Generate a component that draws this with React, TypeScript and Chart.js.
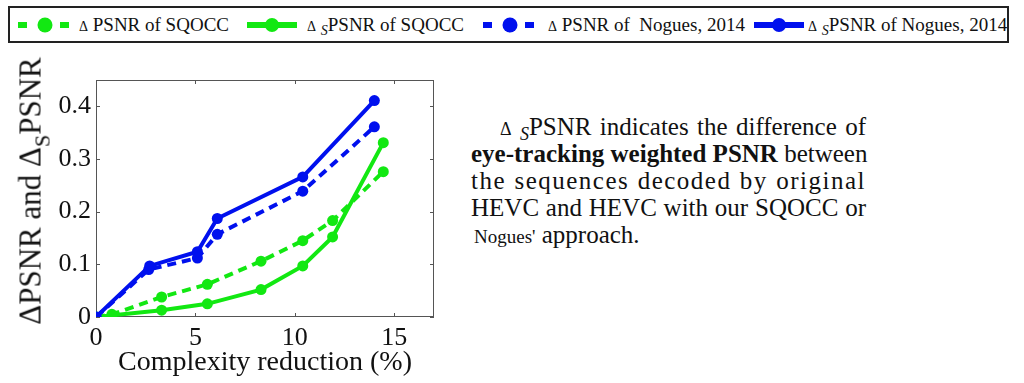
import React, { useEffect, useRef } from "react";
import { Chart, registerables } from "chart.js";

Chart.register(...registerables);

// ---- data ----
const xTicks = [0, 5, 10, 15];
const yTicks = [0, 0.1, 0.2, 0.3, 0.4];

const sqoccDeltaX = [0, 0.8, 3.3, 5.6, 8.3, 10.4, 11.9, 14.45];
const sqoccDeltaY = [0, 0.005, 0.038, 0.062, 0.106, 0.145, 0.183, 0.276];

const sqoccDeltaSX = [0, 3.3, 5.6, 8.3, 10.4, 11.9, 14.45];
const sqoccDeltaSY = [0, 0.013, 0.025, 0.052, 0.097, 0.152, 0.331];

const noguesDeltaX = [0, 2.65, 5.1, 6.1, 10.4, 14.0];
const noguesDeltaY = [0, 0.09, 0.112, 0.157, 0.239, 0.361];

const noguesDeltaSX = [0, 2.7, 5.1, 6.1, 10.4, 14.0];
const noguesDeltaSY = [0, 0.097, 0.124, 0.187, 0.266, 0.411];

const GREEN = "#12e812";
const BLUE = "#0010ee";
const FONT = "'Liberation Serif', 'Times New Roman', serif";

const pts = (xs: number[], ys: number[]) => xs.map((x, i) => ({ x, y: ys[i] }));

const framePlugin = {
  id: "matlabFrame",
  beforeDatasetsDraw(chart: any) {
    const { ctx, chartArea: a, scales } = chart;
    ctx.save();
    ctx.strokeStyle = "#555";
    ctx.lineWidth = 1;
    ctx.strokeRect(a.left + 0.5, a.top + 0.5, a.right - a.left - 1, a.bottom - a.top - 1);
    const tl = 4;
    ctx.beginPath();
    xTicks.forEach((v) => {
      const px = Math.round(scales.x.getPixelForValue(v)) + 0.5;
      ctx.moveTo(px, a.bottom);
      ctx.lineTo(px, a.bottom - tl);
      ctx.moveTo(px, a.top);
      ctx.lineTo(px, a.top + tl);
    });
    yTicks.forEach((v) => {
      const py = Math.round(scales.y.getPixelForValue(v)) + 0.5;
      ctx.moveTo(a.left, py);
      ctx.lineTo(a.left + tl, py);
      ctx.moveTo(a.right, py);
      ctx.lineTo(a.right - tl, py);
    });
    ctx.stroke();
    ctx.restore();
  },
};

function LegendSample({ left, color, dashed }: { left: number; color: string; dashed: boolean }) {
  return (
    <svg width={60} height={20} style={{ position: "absolute", left, top: 14.5 }}>
      {dashed ? (
        <>
          <line x1={4} y1={10} x2={13} y2={10} stroke={color} strokeWidth={6} />
          <circle cx={31} cy={10} r={7.5} fill={color} />
          <line x1={46} y1={10} x2={55} y2={10} stroke={color} strokeWidth={6} />
        </>
      ) : (
        <>
          <line x1={2} y1={10} x2={52} y2={10} stroke={color} strokeWidth={6} />
          <circle cx={27} cy={10} r={7} fill={color} />
        </>
      )}
    </svg>
  );
}

const legendText: React.CSSProperties = {
  position: "absolute",
  top: 14.5,
  height: 20,
  lineHeight: "20px",
  fontSize: 19,
  whiteSpace: "nowrap",
  color: "#111",
};

const D = ({ size = 14 }: { size?: number }) => <span style={{ fontSize: size }}>Δ</span>;
const SubS = ({ size = 14 }: { size?: number }) => (
  <i style={{ fontSize: size, position: "relative", top: size * 0.3 }}>S</i>
);

export default function App() {
  const canvasRef = useRef<HTMLCanvasElement | null>(null);

  useEffect(() => {
    if (!canvasRef.current) return;
    const common = { borderWidth: 4, pointRadius: 5.5, pointBorderWidth: 0 };
    const chart = new Chart(canvasRef.current, {
      type: "line",
      data: {
        datasets: [
          {
            label: "Δ_S PSNR of Nogues, 2014",
            data: pts(noguesDeltaSX, noguesDeltaSY),
            borderColor: BLUE,
            backgroundColor: BLUE,
            pointBackgroundColor: BLUE,
            ...common,
          },
          {
            label: "Δ PSNR of Nogues, 2014",
            data: pts(noguesDeltaX, noguesDeltaY),
            borderColor: BLUE,
            backgroundColor: BLUE,
            borderDash: [9, 6],
            pointBackgroundColor: BLUE,
            ...common,
          },
          {
            label: "Δ_S PSNR of SQOCC",
            data: pts(sqoccDeltaSX, sqoccDeltaSY),
            borderColor: GREEN,
            backgroundColor: GREEN,
            pointBackgroundColor: GREEN,
            ...common,
          },
          {
            label: "Δ PSNR of SQOCC",
            data: pts(sqoccDeltaX, sqoccDeltaY),
            borderColor: GREEN,
            backgroundColor: GREEN,
            borderDash: [9, 6],
            pointBackgroundColor: GREEN,
            ...common,
          },
        ],
      },
      options: {
        animation: false,
        responsive: false,
        devicePixelRatio: 1,
        layout: { padding: { top: 80, right: 26, left: 0, bottom: 0 } },
        plugins: { legend: { display: false }, tooltip: { enabled: false } },
        scales: {
          x: {
            type: "linear",
            min: 0,
            max: 17,
            grid: { display: false, drawTicks: false },
            border: { display: false },
            afterBuildTicks: (scale: any) => {
              scale.ticks = xTicks.map((v) => ({ value: v }));
            },
            afterFit: (scale: any) => {
              scale.height = 66;
            },
            ticks: {
              color: "#111",
              font: { family: FONT, size: 26 },
              padding: 6,
              maxRotation: 0,
              autoSkip: false,
              callback: (v: any) => String(v),
            },
            title: {
              display: true,
              text: "Complexity reduction (%)",
              color: "#111",
              font: { family: FONT, size: 28 },
              padding: { top: 0, bottom: 4 },
            },
          },
          y: {
            type: "linear",
            min: 0,
            max: 0.45,
            grid: { display: false, drawTicks: false },
            border: { display: false },
            afterBuildTicks: (scale: any) => {
              scale.ticks = yTicks.map((v) => ({ value: v }));
            },
            afterFit: (scale: any) => {
              scale.width = 96;
            },
            ticks: {
              color: "#111",
              font: { family: FONT, size: 26 },
              padding: 5,
              autoSkip: false,
              callback: (v: any) => String(v),
            },
          },
        },
      },
      plugins: [framePlugin],
    } as any);
    return () => chart.destroy();
  }, []);

  const lineStyle = (top: number, extra: React.CSSProperties = {}): React.CSSProperties => ({
    position: "absolute",
    left: 471,
    width: 395,
    top,
    height: 27,
    lineHeight: "27px",
    fontSize: 25,
    whiteSpace: "nowrap",
    textAlign: "justify",
    textAlignLast: "justify" as any,
    color: "#111",
    ...extra,
  });

  return (
    <div
      style={{
        position: "absolute",
        left: 0,
        top: 0,
        width: 1024,
        height: 383,
        background: "#fff",
        fontFamily: FONT,
        overflow: "hidden",
      }}
    >
      {/* legend */}
      <div
        style={{
          position: "absolute",
          left: 8,
          top: 6,
          width: 1001,
          height: 37,
          boxSizing: "border-box",
          border: "2px solid #222",
        }}
      />
      <LegendSample left={14} color={GREEN} dashed />
      <div style={{ ...legendText, left: 79 }}>
        <D /> PSNR of SQOCC
      </div>
      <LegendSample left={245} color={GREEN} dashed={false} />
      <div style={{ ...legendText, left: 307 }}>
        <D /> <SubS />PSNR of SQOCC
      </div>
      <LegendSample left={479} color={BLUE} dashed />
      <div style={{ ...legendText, left: 548 }}>
        <D /> PSNR of&nbsp; Nogues, 2014
      </div>
      <LegendSample left={752} color={BLUE} dashed={false} />
      <div style={{ ...legendText, left: 808 }}>
        <D /> <SubS />PSNR of Nogues, 2014
      </div>

      {/* chart */}
      <canvas
        ref={canvasRef}
        width={460}
        height={383}
        style={{ position: "absolute", left: 0, top: 0, width: 460, height: 383 }}
      />

      {/* y axis title */}
      <div
        style={{
          position: "absolute",
          left: 32,
          top: 191,
          transform: "translate(-50%, -50%) rotate(-90deg)",
          fontSize: 31,
          lineHeight: "34px",
          whiteSpace: "nowrap",
          color: "#111",
        }}
      >
        ΔPSNR and Δ<span style={{ fontSize: 22, position: "relative", top: 9 }}>S</span>PSNR
      </div>

      {/* annotation */}
      <div style={lineStyle(112.5, { left: 500, width: 366 })}>
        <D size={18} /> <SubS size={18} />PSNR indicates the difference of
      </div>
      <div style={lineStyle(139.5)}>
        <b>eye-tracking weighted PSNR</b> between
      </div>
      <div style={lineStyle(166.5, { letterSpacing: 1.5 })}>the sequences decoded by original</div>
      <div style={lineStyle(193.5)}>HEVC and HEVC with our SQOCC or</div>
      <div style={lineStyle(220.5, { textAlign: "left", textAlignLast: "left" as any, left: 474 })}>
        <span style={{ fontSize: 19 }}>Nogues'</span> approach.
      </div>
    </div>
  );
}
